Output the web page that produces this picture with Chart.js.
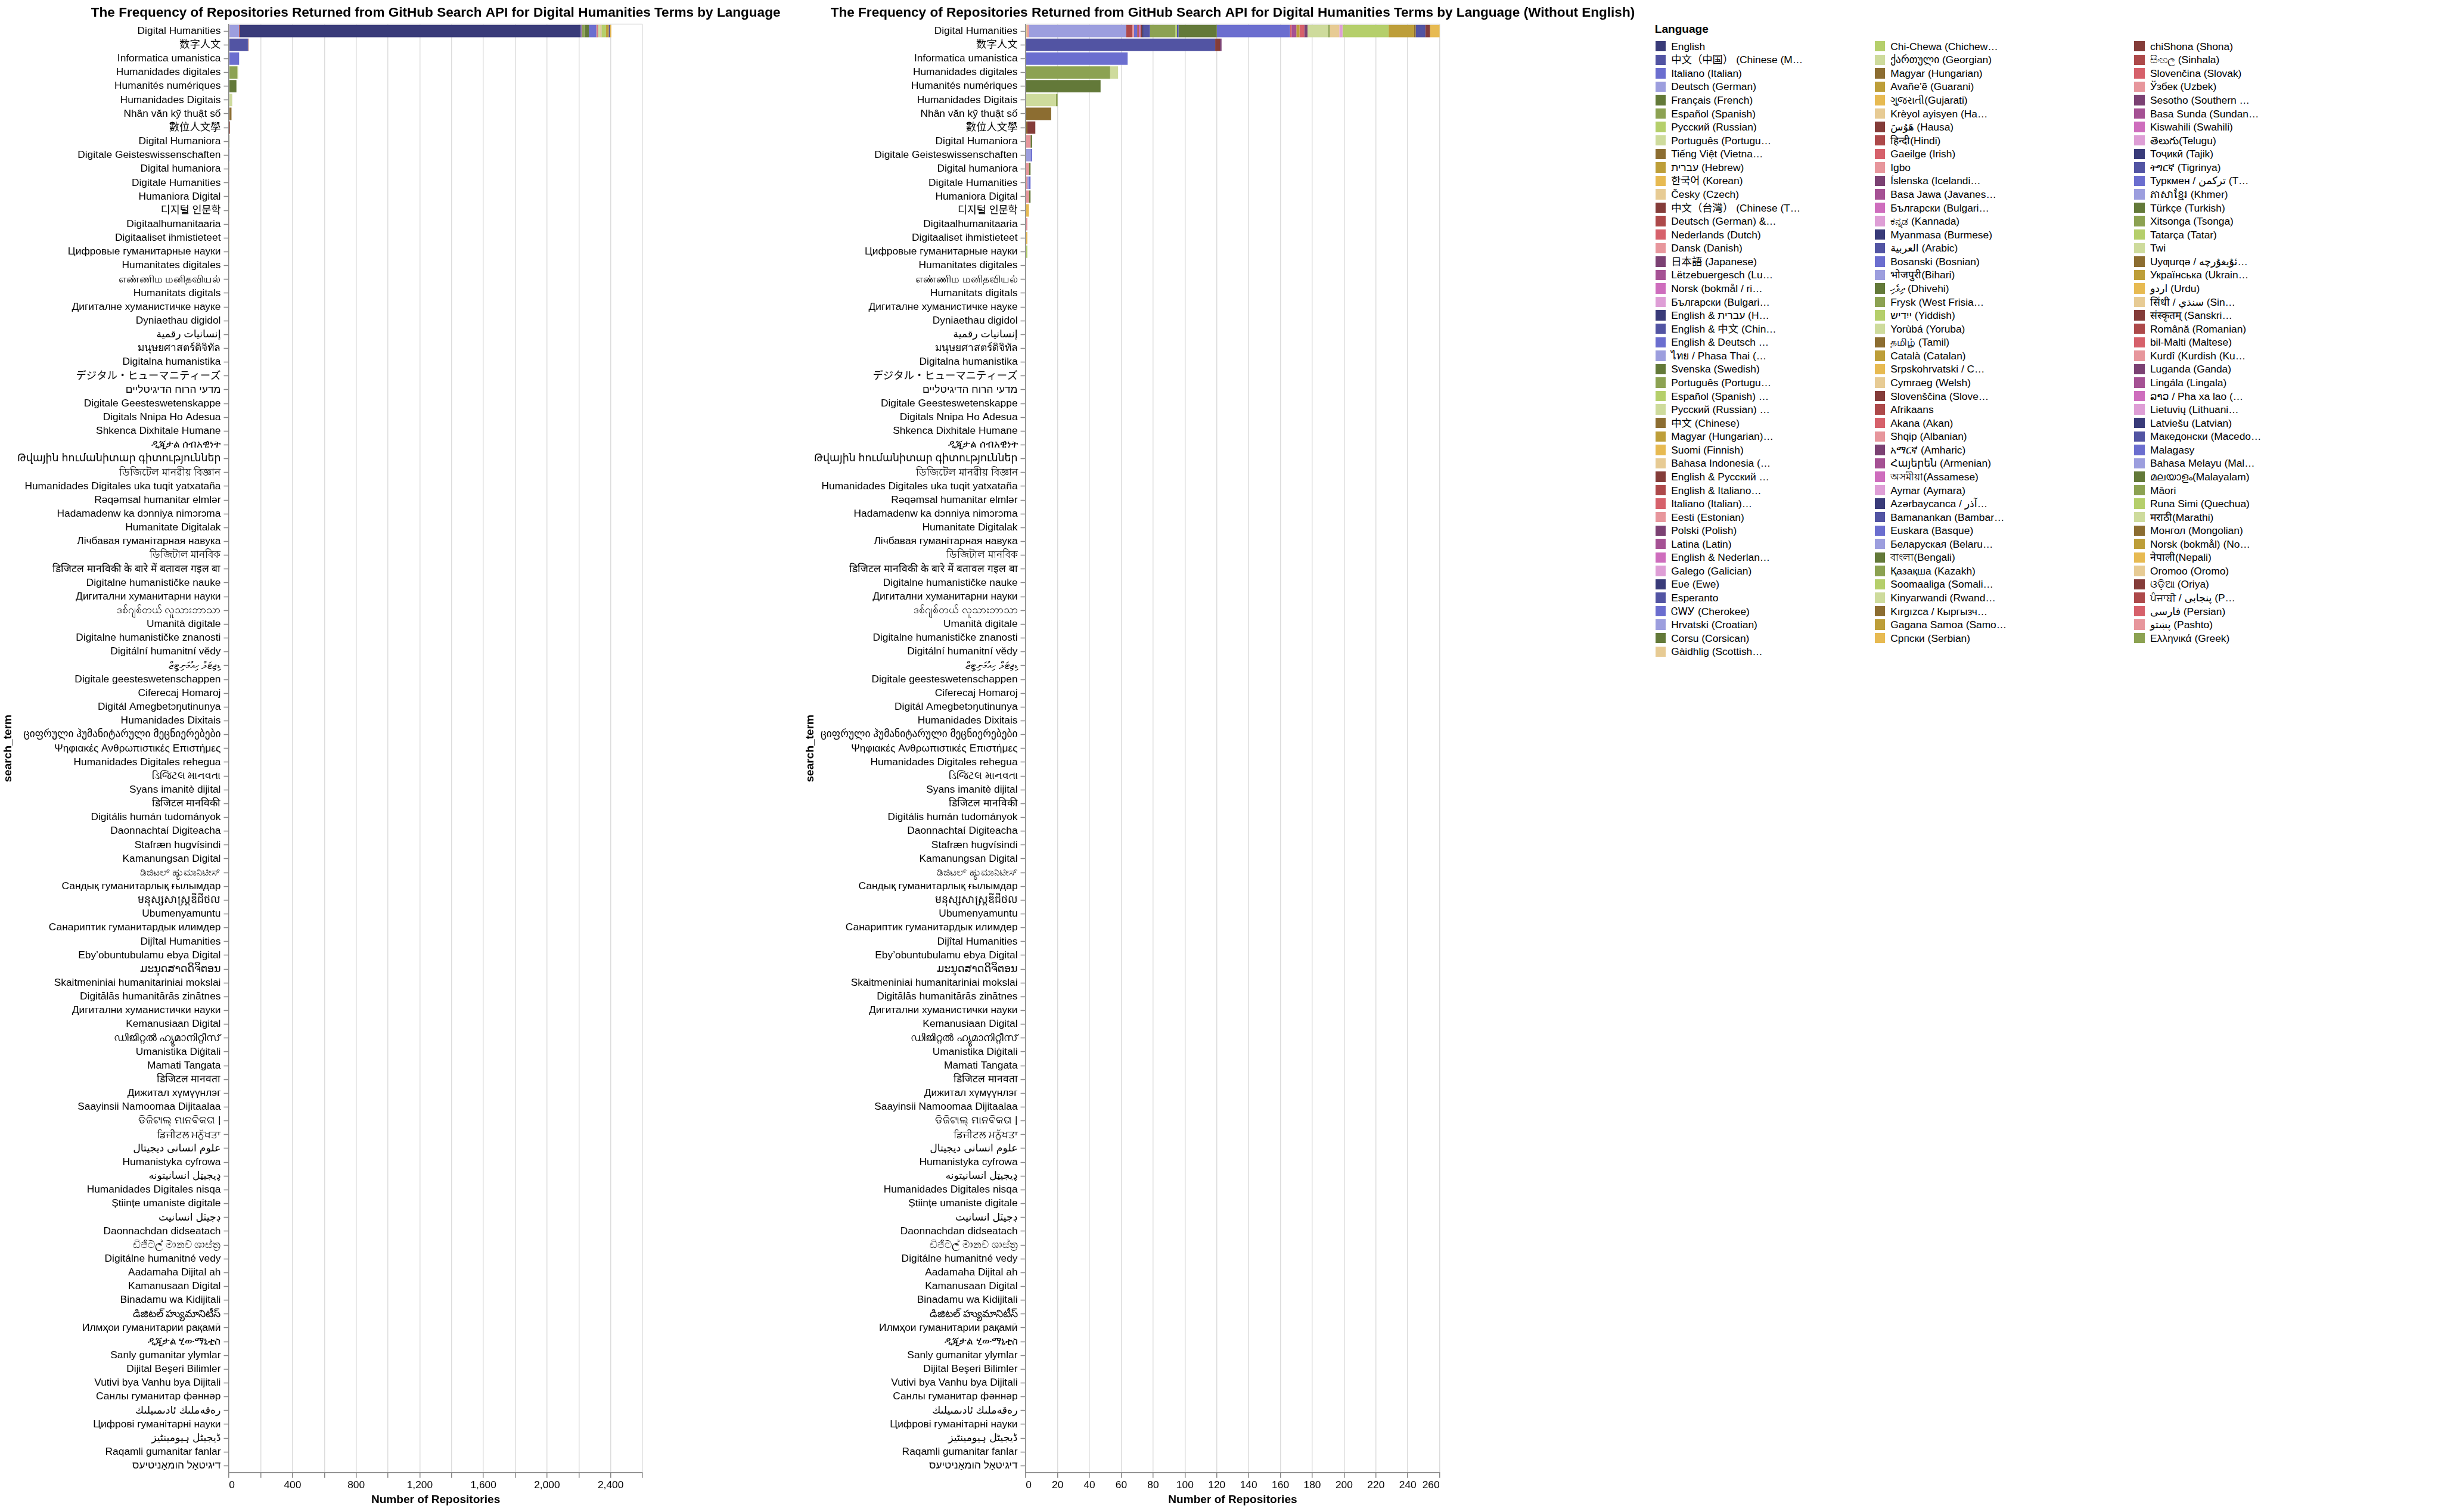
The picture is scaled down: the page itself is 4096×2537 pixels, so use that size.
<!DOCTYPE html>
<html>
<head>
<meta charset="utf-8">
<title>The Frequency of Repositories Returned from GitHub Search API for Digital Humanities Terms by Language</title>
<script src="https://cdn.jsdelivr.net/npm/chart.js@4.4.1/dist/chart.umd.min.js"></script>
<style>
  html, body { margin: 0; padding: 0; background: #fff; }
  #page { position: relative; width: 4096px; height: 2537px; overflow: hidden; background: #fff; }
  #page canvas { position: absolute; top: 0; }
  .lg-title { position: absolute; font: bold 19.1px "Liberation Sans", Arial, sans-serif; color: #000; white-space: nowrap; line-height: 22px; }
  .lg-row { position: absolute; height: 22px; }
  .lg-sw { position: absolute; left: 0; top: 2.3px; width: 17.4px; height: 17.4px; }
  .lg-tx { position: absolute; left: 26.6px; top: 0; font-size: 17.36px; line-height: 22px; color: #000; white-space: nowrap;
           font-family: "Liberation Sans", Arial, "DejaVu Sans", "Noto Sans CJK SC", sans-serif; }
</style>
</head>
<body>
<div id="page">
  <canvas id="chartAll" width="1330" height="2537" style="left:0px"></canvas>
  <canvas id="chartNoEnglish" width="1424" height="2537" style="left:1346px"></canvas>
  <div id="legend"></div>
</div>
<script>
// ---------------- DATA ----------------
const TITLE_ALL = 'The Frequency of Repositories Returned from GitHub Search API for Digital Humanities Terms by Language';
const TITLE_NO_ENGLISH = 'The Frequency of Repositories Returned from GitHub Search API for Digital Humanities Terms by Language (Without English)';
const X_TITLE = 'Number of Repositories';
const Y_TITLE = 'search_term';
const LEGEND_TITLE = 'Language';

const TERMS = [
  'Digital Humanities', '数字人文', 'Informatica umanistica', 'Humanidades digitales', 'Humanités numériques',
  'Humanidades Digitais', 'Nhân văn kỹ thuật số', '數位人文學', 'Digital Humaniora', 'Digitale Geisteswissenschaften',
  'Digital humaniora', 'Digitale Humanities', 'Humaniora Digital', '디지털 인문학', 'Digitaalhumanitaaria',
  'Digitaaliset ihmistieteet', 'Цифровые гуманитарные науки', 'Humanitates digitales', 'எண்ணிம மனிதவியல்', 'Humanitats digitals',
  'Дигиталне хуманистичке науке', 'Dyniaethau digidol', 'إنسانيات رقمية', 'มนุษยศาสตร์ดิจิทัล', 'Digitalna humanistika',
  'デジタル・ヒューマニティーズ', 'מדעי הרוח הדיגיטליים', 'Digitale Geesteswetenskappe', 'Digitals Nnipa Ho Adesua', 'Shkenca Dixhitale Humane',
  'ዲጂታል ሰብአዊነት', 'Թվային հումանիտար գիտություններ', 'ডিজিটেল মানৱীয় বিজ্ঞান', 'Humanidades Digitales uka tuqit yatxataña', 'Rəqəmsal humanitar elmlər',
  'Hadamadenw ka dɔnniya nimɔrɔma', 'Humanitate Digitalak', 'Лічбавая гуманітарная навука', 'ডিজিটাল মানবিক', 'डिजिटल मानविकी के बारे में बतावल गइल बा',
  'Digitalne humanističke nauke', 'Дигитални хуманитарни науки', 'ဒစ်ဂျစ်တယ် လူသားဘာသာ', 'Umanità digitale', 'Digitalne humanističke znanosti',
  'Digitální humanitní vědy', 'ޑިޖިޓަލް ހިއުމަނިޓީޒް', 'Digitale geesteswetenschappen', 'Ciferecaj Homaroj', 'Digitál Amegbetɔŋutinunya',
  'Humanidades Dixitais', 'ციფრული ჰუმანიტარული მეცნიერებები', 'Ψηφιακές Ανθρωπιστικές Επιστήμες', 'Humanidades Digitales rehegua', 'ડિજિટલ માનવતા',
  'Syans imanitè dijital', 'डिजिटल मानविकी', 'Digitális humán tudományok', 'Daonnachtaí Digiteacha', 'Stafræn hugvísindi',
  'Kamanungsan Digital', 'ಡಿಜಿಟಲ್ ಹ್ಯುಮಾನಿಟೀಸ್', 'Сандық гуманитарлық ғылымдар', 'មនុស្សសាស្ត្រឌីជីថល', 'Ubumenyamuntu',
  'Санариптик гуманитардык илимдер', 'Dijîtal Humanities', 'Eby’obuntubulamu ebya Digital', 'ມະນຸດສາດດິຈິຕອນ', 'Skaitmeniniai humanitariniai mokslai',
  'Digitālās humanitārās zinātnes', 'Дигитални хуманистички науки', 'Kemanusiaan Digital', 'ഡിജിറ്റൽ ഹ്യുമാനിറ്റീസ്', 'Umanistika Diġitali',
  'Mamati Tangata', 'डिजिटल मानवता', 'Дижитал хүмүүнлэг', 'Saayinsii Namoomaa Dijitaalaa', 'ଡିଜିଟାଲ୍ ମାନବିକତା |',
  'ਡਿਜੀਟਲ ਮਨੁੱਖਤਾ', 'علوم انسانی دیجیتال', 'Humanistyka cyfrowa', 'ډیجیټل انسانیتونه', 'Humanidades Digitales nisqa',
  'Științe umaniste digitale', 'ڊجيٽل انسانيت', 'Daonnachdan didseatach', 'ඩිජිටල් මානව ශාස්ත්‍ර', 'Digitálne humanitné vedy',
  'Aadamaha Dijital ah', 'Kamanusaan Digital', 'Binadamu wa Kidijitali', 'డిజిటల్ హ్యుమానిటీస్', 'Илмҳои гуманитарии рақамӣ',
  'ዲጂታል ሂውማኒቲስ', 'Sanly gumanitar ylymlar', 'Dijital Beşeri Bilimler', 'Vutivi bya Vanhu bya Dijitali', 'Санлы гуманитар фәннәр',
  'رەقەملىك ئادىمىيلىك', 'Цифрові гуманітарні науки', 'ڈیجیٹل ہیومینٹیز', 'Raqamli gumanitar fanlar', 'דיגיטאַל הומאַניטיעס'
];

// Legend entries, column by column (names as in the data)
const LEGEND_COL_1 = [
  'English', '中文（中国） (Chinese (M…', 'Italiano (Italian)', 'Deutsch (German)', 'Français (French)',
  'Español (Spanish)', 'Русский (Russian)', 'Português (Portuguese)', 'Tiếng Việt (Vietna…', 'עברית (Hebrew)',
  '한국어 (Korean)', 'Česky (Czech)', '中文（台灣） (Chinese (T…', 'Deutsch (German) &…', 'Nederlands (Dutch)',
  'Dansk (Danish)', '日本語 (Japanese)', 'Lëtzebuergesch (Lu…', 'Norsk (bokmål / ri…', 'Български (Bulgarian)',
  'English & עברית (H…', 'English & 中文 (Chin…', 'English & Deutsch …', 'ไทย / Phasa Thai (…', 'Svenska (Swedish)',
  'Português (Portuguese) & English', 'Español (Spanish) …', 'Русский (Russian) …', '中文 (Chinese)', 'Magyar (Hungarian)…',
  'Suomi (Finnish)', 'Bahasa Indonesia (…', 'English & Русский …', 'English & Italiano…', 'Italiano (Italian)…',
  'Eesti (Estonian)', 'Polski (Polish)', 'Latina (Latin)', 'English & Nederlan…', 'Galego (Galician)',
  'Eʋe (Ewe)', 'Esperanto', 'ᏣᎳᎩ (Cherokee)', 'Hrvatski (Croatian)', 'Corsu (Corsican)',
  'Gàidhlig (Scottish…'
];
const LEGEND_COL_2 = [
  'Chi-Chewa (Chichew…', 'ქართული (Georgian)', 'Magyar (Hungarian)', "Avañe'ẽ (Guarani)", 'ગુજરાતી(Gujarati)',
  'Krèyol ayisyen (Ha…', 'هَوُسَ (Hausa)', 'हिन्दी(Hindi)', 'Gaeilge (Irish)', 'Igbo',
  'Íslenska (Icelandi…', 'Basa Jawa (Javanes…', 'Български (Bulgarian) & English', 'ಕನ್ನಡ (Kannada)', 'Myanmasa (Burmese)',
  'العربية (Arabic)', 'Bosanski (Bosnian)', 'भोजपुरी(Bihari)', 'ދިވެހި (Dhivehi)', 'Frysk (West Frisia…',
  'ייִדיש (Yiddish)', 'Yorùbá (Yoruba)', 'தமிழ் (Tamil)', 'Català (Catalan)', 'Srpskohrvatski / С…',
  'Cymraeg (Welsh)', 'Slovenščina (Slove…', 'Afrikaans', 'Akana (Akan)', 'Shqip (Albanian)',
  'አማርኛ (Amharic)', 'Հայերեն (Armenian)', 'অসমীয়া(Assamese)', 'Aymar (Aymara)', 'Azərbaycanca / آذر…',
  'Bamanankan (Bambar…', 'Euskara (Basque)', 'Беларуская (Belaru…', 'বাংলা(Bengali)', 'Қазақша (Kazakh)',
  'Soomaaliga (Somali…', 'Kinyarwandi (Rwand…', 'Kırgızca / Кыргызч…', 'Gagana Samoa (Samo…', 'Српски (Serbian)'
];
const LEGEND_COL_3 = [
  'chiShona (Shona)', 'සිංහල (Sinhala)', 'Slovenčina (Slovak)', 'Ўзбек (Uzbek)', 'Sesotho (Southern …',
  'Basa Sunda (Sundan…', 'Kiswahili (Swahili)', 'తెలుగు(Telugu)', 'Тоҷикӣ (Tajik)', 'ትግርኛ (Tigrinya)',
  'Туркмен / تركمن (T…', 'ភាសាខ្មែរ (Khmer)', 'Türkçe (Turkish)', 'Xitsonga (Tsonga)', 'Tatarça (Tatar)',
  'Twi', 'Uyƣurqə / ئۇيغۇرچە…', 'Українська (Ukrain…', 'اردو (Urdu)', 'सिंधी / سنڌي (Sin…',
  'संस्कृतम् (Sanskri…', 'Română (Romanian)', 'bil-Malti (Maltese)', 'Kurdî (Kurdish (Ku…', 'Luganda (Ganda)',
  'Lingála (Lingala)', 'ລາວ / Pha xa lao (…', 'Lietuvių (Lithuani…', 'Latviešu (Latvian)', 'Македонски (Macedo…',
  'Malagasy', 'Bahasa Melayu (Mal…', 'മലയാളം(Malayalam)', 'Māori', 'Runa Simi (Quechua)',
  'मराठी(Marathi)', 'Монгол (Mongolian)', 'Norsk (bokmål) (No…', 'नेपाली(Nepali)', 'Oromoo (Oromo)',
  'ଓଡ଼ିଆ (Oriya)', 'ਪੰਜਾਬੀ / پنجابی (P…', 'فارسی (Persian)', 'پښتو (Pashto)', 'Ελληνικά (Greek)'
];

// Repository counts: one row per search term that has results
const ROW_TERMS = [
  'Digital Humanities', '数字人文', 'Informatica umanistica', 'Humanidades digitales', 'Humanités numériques',
  'Humanidades Digitais', 'Nhân văn kỹ thuật số', '數位人文學', 'Digital Humaniora', 'Digitale Geisteswissenschaften',
  'Digital humaniora', 'Digitale Humanities', 'Humaniora Digital', '디지털 인문학', 'Digitaalhumanitaaria',
  'Digitaaliset ihmistieteet', 'Цифровые гуманитарные науки'
];
const ROW_LANGUAGES = [
  ['Bahasa Indonesia (…', 'Dansk (Danish)', 'Deutsch (German)', 'Deutsch (German) &…', 'Eesti (Estonian)', 'English',
   'English & Deutsch …', 'English & Italiano…', 'English & Nederlan…', 'English & Русский …', 'English & עברית (H…',
   'English & 中文 (Chin…', 'Español (Spanish)', 'Español (Spanish) …', 'Esperanto', 'Français (French)',
   'Italiano (Italian)', 'Italiano (Italian)…', 'Latina (Latin)', 'Magyar (Hungarian)…', 'Nederlands (Dutch)',
   'Polski (Polish)', 'Português (Portuguese)', 'Português (Portuguese) & English', 'Česky (Czech)',
   'Български (Bulgarian)', 'Русский (Russian)', 'עברית (Hebrew)', '中文 (Chinese)', '中文（中国） (Chinese (M…',
   '中文（台灣） (Chinese (T…', '한국어 (Korean)'],
  ['中文（中国） (Chinese (M…', '中文（台灣） (Chinese (T…', '日本語 (Japanese)'],
  ['Italiano (Italian)'],
  ['Español (Spanish)', 'Português (Portuguese)'],
  ['Français (French)'],
  ['Português (Portuguese)', 'Português (Portuguese) & English'],
  ['Tiếng Việt (Vietna…'],
  ['中文 (Chinese)', '中文（台灣） (Chinese (T…'],
  ['Dansk (Danish)', 'Svenska (Swedish)'],
  ['Deutsch (German)', 'English & Deutsch …'],
  ['Dansk (Danish)', 'Svenska (Swedish)'],
  ['Dansk (Danish)', 'Deutsch (German)', 'English & Deutsch …'],
  ['Dansk (Danish)', 'Svenska (Swedish)'],
  ['한국어 (Korean)'],
  ['Eesti (Estonian)'],
  ['Suomi (Finnish)'],
  ['Русский (Russian)']
];
const ROW_COUNTS = [
  [1, 1, 61, 4, 1, 2143, 2, 1, 1, 1, 1, 4, 16, 1, 1, 24, 46, 1, 3, 2, 3, 2, 13, 1, 6, 2, 29, 16, 1, 6, 3, 7],
  [119, 3, 1],
  [64],
  [53, 5],
  [47],
  [19, 1],
  [16],
  [1, 5],
  [3, 1],
  [3, 1],
  [2, 1],
  [1, 1, 1],
  [2, 1],
  [2],
  [1],
  [1],
  [1]
];

const X_MAX_ALL = 2600, X_STEP_ALL = 200;
const X_LABELS_ALL = ['0', '400', '800', '1,200', '1,600', '2,000', '2,400'];
const X_MAX_NO_ENGLISH = 260, X_STEP_NO_ENGLISH = 20;

const PALETTE = ['#393b79', '#5254a3', '#6b6ecf', '#9c9ede', '#637939', '#8ca252', '#b5cf6b', '#cedb9c',
                 '#8c6d31', '#bd9e39', '#e7ba52', '#e7cb94', '#843c39', '#ad494a', '#d6616b', '#e7969c',
                 '#7b4173', '#a55194', '#ce6dbd', '#de9ed6'];

// ---------------- BUILD ----------------
const FAMILY = '"Liberation Sans", Arial, "DejaVu Sans", "Noto Sans CJK SC", sans-serif';
const S = 0.868;                       // reference -> window scale
const PLOT_TOP = 46.7 * S;             // 40.5
const PLOT_BOTTOM = 2846.7 * S;        // 2471
const CANVAS_H = 2537;

// colour domain order of the original scale
const COLOR_DOMAIN = [...LEGEND_COL_1.slice(0, 45), LEGEND_COL_3[44], ...LEGEND_COL_2,
                      LEGEND_COL_1[45], ...LEGEND_COL_3.slice(0, 44)];
const colorOf = name => PALETTE[COLOR_DOMAIN.indexOf(name) % PALETTE.length];
const display = name => name.length > 19 ? name.slice(0, 18) + '…' : name;

function countFor(term, lang) {
  const r = ROW_TERMS.indexOf(term);
  if (r < 0) return null;
  let sum = 0;
  ROW_LANGUAGES[r].forEach((l, k) => { if (l === lang) sum += ROW_COUNTS[r][k]; });
  return sum > 0 ? sum : null;
}
const usedLanguages = [...new Set(ROW_LANGUAGES.flat())].sort();   // stack order: ascending by name

const vegaTitle = {
  id: 'vegaTitle',
  afterDraw(chart, args, opts) {
    const { ctx, chartArea } = chart;
    ctx.save();
    ctx.font = 'bold 22.57px ' + FAMILY;
    ctx.fillStyle = '#000';
    ctx.textAlign = 'center';
    ctx.textBaseline = 'alphabetic';
    ctx.fillText(opts.text, (chartArea.left + chartArea.right) / 2, 28.2);
    ctx.restore();
  }
};
const viewFrame = {
  id: 'viewFrame',
  beforeDatasetsDraw(chart) {
    const { ctx, chartArea } = chart;
    ctx.save();
    ctx.strokeStyle = '#dddddd';
    ctx.lineWidth = 1.5;
    ctx.beginPath();
    ctx.moveTo(chartArea.left, chartArea.top);
    ctx.lineTo(chartArea.right, chartArea.top);
    ctx.stroke();
    ctx.restore();
  }
};

function makeChart(canvasId, cfg) {
  const datasets = usedLanguages.filter(cfg.include).map(lang => ({
    label: display(lang),
    data: TERMS.map(t => countFor(t, lang)),
    backgroundColor: colorOf(lang),
    borderWidth: 0,
    barPercentage: 0.9,
    categoryPercentage: 1.0
  }));
  return new Chart(document.getElementById(canvasId), {
    type: 'bar',
    data: { labels: TERMS, datasets },
    options: {
      indexAxis: 'y',
      responsive: false,
      animation: false,
      events: [],
      layout: { padding: { top: PLOT_TOP, left: 0, right: cfg.padRight, bottom: 0 } },
      plugins: {
        legend: { display: false },
        tooltip: { enabled: false },
        title: { display: false },
        vegaTitle: { text: cfg.title }
      },
      scales: {
        x: {
          type: 'linear', position: 'bottom', stacked: true,
          min: 0, max: cfg.xMax,
          ticks: {
            stepSize: cfg.xStep, autoSkip: false, maxRotation: 0, minRotation: 0, align: 'inner',
            padding: 2, color: '#000', font: { family: FAMILY, size: 17.36 },
            callback: cfg.tickLabel
          },
          grid: {
            color: c => (c.tick && c.tick.value === 0) ? 'rgba(0,0,0,0)' : '#dddddd',
            lineWidth: 1.5, drawTicks: true, tickLength: 8.7, tickColor: '#888888', tickWidth: 1.5
          },
          border: { color: '#888888', width: 1.5 },
          title: { display: true, text: X_TITLE, color: '#000', font: { family: FAMILY, size: 19.1, weight: 'bold' },
                   padding: { top: 4, bottom: 9 } },
          afterFit: s => { s.height = CANVAS_H - PLOT_BOTTOM; }
        },
        y: {
          type: 'category', stacked: true, offset: true,
          ticks: { autoSkip: false, color: '#000', font: { family: FAMILY, size: 17.36 }, padding: 5 },
          grid: { display: true, drawOnChartArea: false, offset: false, drawTicks: true,
                  tickLength: 8.7, tickColor: '#888888', tickWidth: 1.5 },
          border: { color: '#888888', width: 1.5 },
          title: { display: true, text: Y_TITLE, color: '#000', font: { family: FAMILY, size: 19.1, weight: 'bold' },
                   padding: { top: 2, bottom: 0 } },
          afterFit: s => { s.width = cfg.yAxisWidth; }
        }
      }
    },
    plugins: [vegaTitle, viewFrame]
  });
}

Chart.defaults.font.family = FAMILY;

// Left: all languages (canvas at x=0)
makeChart('chartAll', {
  title: TITLE_ALL,
  include: () => true,
  xMax: X_MAX_ALL, xStep: X_STEP_ALL,
  tickLabel: v => (v % 400 === 0 && v <= 2400) ? X_LABELS_ALL[v / 400] : '',
  yAxisWidth: 442.6 * S,
  padRight: 1330 - 1242 * S
});
// Right: without English (canvas at x=1346)
makeChart('chartNoEnglish', {
  title: TITLE_NO_ENGLISH,
  include: l => l !== 'English',
  xMax: X_MAX_NO_ENGLISH, xStep: X_STEP_NO_ENGLISH,
  tickLabel: v => String(v),
  yAxisWidth: 1983 * S - 1346,
  padRight: 1424 - (2783 * S - 1346)
});

// ---------------- LEGEND ----------------
(function buildLegend() {
  const host = document.getElementById('legend');
  const t = document.createElement('div');
  t.className = 'lg-title';
  t.textContent = LEGEND_TITLE;
  t.style.left = (3199 * S) + 'px';
  t.style.top = (55.4 - 17.6) + 'px';
  host.appendChild(t);
  const colX = [3200 * S, 3624 * S, 4126 * S];
  const firstCenter = 89.6 * S, step = 26.0 * S;
  [LEGEND_COL_1, LEGEND_COL_2, LEGEND_COL_3].forEach((col, c) => {
    col.forEach((name, i) => {
      const row = document.createElement('div');
      row.className = 'lg-row';
      row.style.left = colX[c] + 'px';
      row.style.top = (firstCenter + i * step - 11) + 'px';
      const sw = document.createElement('div');
      sw.className = 'lg-sw';
      sw.style.background = colorOf(name);
      const tx = document.createElement('div');
      tx.className = 'lg-tx';
      tx.textContent = display(name);
      row.appendChild(sw);
      row.appendChild(tx);
      host.appendChild(row);
    });
  });
})();
</script>
</body>
</html>
